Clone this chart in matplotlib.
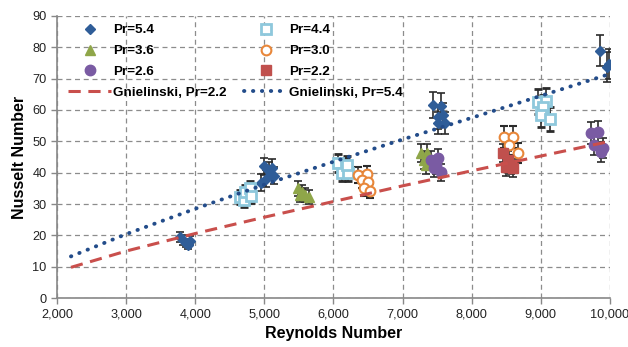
import numpy as np
import matplotlib.pyplot as plt

plt.rcParams['font.family'] = ['Liberation Sans', 'DejaVu Sans']

# Experimental data (Re, Nu, error)
re_54 = [3780, 3820, 3860, 3890, 3930, 4950, 5000, 5030, 5070, 5110, 5140, 7440, 7550, 7510, 7580, 7520, 7620, 9855, 9955, 9995]
nu_54 = [19.5, 18.5, 17.5, 17.0, 18.3, 36.8, 42.0, 38.0, 40.5, 41.5, 39.0, 61.6, 61.3, 57.8, 58.4, 55.9, 55.9, 78.9, 73.7, 74.7]
er_54 = [1.5, 1.5, 1.3, 1.3, 1.5, 2.7, 2.8, 2.7, 2.8, 2.8, 2.7, 4.0, 4.0, 3.8, 3.8, 3.6, 3.6, 5.0, 4.8, 4.8]

re_44 = [4650, 4700, 4725, 4785, 4800, 6070, 6175, 6130, 6215, 6200, 8960, 9070, 9040, 9000, 9130]
nu_44 = [32.2, 31.3, 33.8, 35.1, 32.6, 43.1, 41.8, 39.9, 39.9, 42.4, 62.6, 62.9, 61.0, 58.4, 57.1]
er_44 = [2.2, 2.1, 2.3, 2.4, 2.2, 2.8, 2.8, 2.7, 2.7, 2.8, 4.0, 4.0, 3.9, 3.8, 3.7]

re_36 = [5480, 5550, 5595, 5640, 5520, 7260, 7360, 7305, 7335]
nu_36 = [35.1, 33.8, 32.9, 32.2, 32.9, 46.3, 46.3, 44.0, 42.4]
er_36 = [2.4, 2.3, 2.2, 2.2, 2.2, 3.0, 3.0, 2.9, 2.8]

re_30 = [6360, 6480, 6420, 6505, 6435, 6535, 8465, 8595, 8535, 8665]
nu_30 = [39.3, 39.6, 37.7, 37.0, 35.1, 34.2, 51.4, 51.4, 48.8, 46.3]
er_30 = [2.6, 2.6, 2.5, 2.5, 2.4, 2.3, 3.4, 3.4, 3.2, 3.1]

re_26 = [7405, 7520, 7450, 7550, 7480, 9725, 9825, 9770, 9900, 9870]
nu_26 = [44.0, 44.7, 41.5, 40.2, 42.4, 52.7, 53.0, 48.8, 47.9, 46.6]
er_26 = [2.9, 2.9, 2.8, 2.7, 2.8, 3.5, 3.5, 3.3, 3.2, 3.1]

re_22 = [8450, 8520, 8495, 8595, 8565]
nu_22 = [46.3, 44.0, 41.8, 41.5, 42.4]
er_22 = [3.0, 2.9, 2.8, 2.8, 2.8]

# Gnielinski correlation curves
re_gn = [2200, 3000, 4000, 5000, 6000, 7000, 8000, 9000, 10000]
nu_gn_22 = [9.8, 15.0, 20.6, 25.8, 30.8, 35.8, 40.6, 45.3, 50.0]
nu_gn_54 = [13.3, 20.4, 28.5, 36.2, 43.5, 50.6, 57.5, 64.5, 71.5]

fig = plt.figure(figsize=(6.28, 3.47), dpi=100)
ax = fig.add_axes([0.091, 0.141, 0.880, 0.813])

ebkw = dict(ecolor='#2b2b2b', elinewidth=1.2, capsize=3.2, capthick=1.2, linestyle='none', zorder=3)

h54 = ax.errorbar(re_54, nu_54, yerr=er_54, fmt='D', ms=5.5, color='#2F5D98', mec='#2F5D98', **ebkw)
h44 = ax.errorbar(re_44, nu_44, yerr=er_44, fmt='s', ms=7, mfc='white', mec='#8EC8DC', mew=2, **ebkw)
h36 = ax.errorbar(re_36, nu_36, yerr=er_36, fmt='^', ms=7.5, color='#8FA649', mec='#8FA649', **ebkw)
h30 = ax.errorbar(re_30, nu_30, yerr=er_30, fmt='o', ms=7, mfc='white', mec='#E8873A', mew=1.5, **ebkw)
h26 = ax.errorbar(re_26, nu_26, yerr=er_26, fmt='o', ms=7.5, color='#7A5BA3', mec='#7A5BA3', **ebkw)
h22 = ax.errorbar(re_22, nu_22, yerr=er_22, fmt='s', ms=7.5, color='#C0504D', mec='#C0504D', **ebkw)

lg22, = ax.plot(re_gn, nu_gn_22, linestyle=(0, (4, 2.5)), color='#C94F4C', lw=2.2, zorder=4)
lg54, = ax.plot(re_gn, nu_gn_54, linestyle=(0, (0.1, 2.2)), color='#234C8A', lw=2.8,
                dash_capstyle='round', zorder=4)

ax.set_xlim(2000, 10000)
ax.set_ylim(0, 90)
ax.set_xticks(np.arange(2000, 10001, 1000))
ax.set_xticklabels(['{:,}'.format(v) for v in range(2000, 10001, 1000)])
ax.set_yticks(np.arange(0, 91, 10))
ax.tick_params(labelsize=9.2, colors='#222222', length=4, width=1, direction='out')
ax.tick_params(axis='both', color='#888888')

ax.grid(True, linestyle=(0, (4, 3)), color='#8c8c8c', lw=0.9, zorder=0)
ax.set_axisbelow(True)
for s in ['top', 'right']:
    ax.spines[s].set_visible(False)
for s in ['left', 'bottom']:
    ax.spines[s].set_color('#888888')
    ax.spines[s].set_linewidth(1.2)

ax.set_xlabel('Reynolds Number', fontsize=11.5, fontweight='bold', labelpad=4)
ax.set_ylabel('Nusselt Number', fontsize=11.5, fontweight='bold', labelpad=4)

handles = [h54[0], h36[0], h26[0], lg22, h44[0], h30[0], h22[0], lg54]
labels = ['Pr=5.4', 'Pr=3.6', 'Pr=2.6', 'Gnielinski, Pr=2.2',
          'Pr=4.4', 'Pr=3.0', 'Pr=2.2', 'Gnielinski, Pr=5.4']
leg = ax.legend(handles, labels, loc='upper left', ncol=2, frameon=False,
                prop={'weight': 'bold', 'size': 9.7}, handlelength=3.2,
                columnspacing=1.3, labelspacing=0.62, handletextpad=0.15,
                bbox_to_anchor=(0.005, 1.0), borderaxespad=0.2)

fig.savefig('out.png', dpi=100, facecolor='white')
